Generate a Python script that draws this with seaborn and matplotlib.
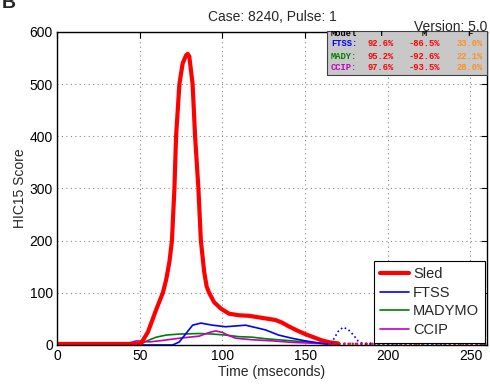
import numpy as np
import matplotlib
matplotlib.use("Agg")
import matplotlib.pyplot as plt
import seaborn as sns
from matplotlib.patches import Rectangle
from matplotlib.lines import Line2D

# =============================================================================
# DATA
# =============================================================================
sled_t = [0, 48, 51, 55, 60, 64, 66, 68, 69.5, 71, 72, 74, 76, 78, 79, 80, 82, 83.5,
          85.5, 87, 89, 90.5, 92, 95, 99, 104, 110, 116, 122, 128, 132, 136, 140,
          145, 150, 155, 160, 165, 170]
sled_v = [2, 2, 4, 25, 68, 100, 125, 160, 200, 300, 400, 500, 540, 555, 558, 553, 500, 400,
          300, 200, 140, 112, 100, 82, 70, 60, 57, 56, 53, 50, 48, 43, 36,
          28, 21, 15, 9, 5, 3]
sled_tail_t = [170, 185, 200, 215, 230, 245, 260]
sled_tail_v = [3, 2, 3, 2, 3, 2, 2]

ftss_t = [0, 70, 74, 78, 82, 87, 94, 102, 110, 114, 118, 126, 134, 142, 150, 158, 163]
ftss_v = [0, 0, 6, 22, 38, 42, 38, 35, 37, 38, 35, 29, 19, 13, 8, 4, 2]
ftss_tail_t = [163, 166, 168, 170, 173, 176, 179, 182, 185, 200, 215, 230, 245, 260]
ftss_tail_v = [2, 4, 15, 26, 34, 30, 20, 8, 2, 2, 3, 2, 3, 2]

mady_t = [0, 48, 52, 56, 60, 66, 74, 86, 94, 102, 110, 118, 126, 134, 142, 150, 158, 165]
mady_v = [1, 1, 4, 10, 15, 19, 21, 22, 21, 19, 16, 15, 12, 10, 8, 6, 4, 2]
mady_tail_t = [165, 180, 200, 220, 240, 260]
mady_tail_v = [2, 2, 2, 2, 2, 2]

ccip_t = [0, 40, 45, 48, 52, 56, 62, 74, 86, 92, 96, 100, 104, 108, 118, 130, 142, 150, 158, 165]
ccip_v = [1, 2, 5, 8, 7, 6, 8, 13, 17, 24, 27, 24, 18, 13, 10, 8, 5, 4, 3, 2]
ccip_tail_t = [165, 180, 195, 205, 215, 225, 235, 245, 260]
ccip_tail_v = [2, 3, 4, 6, 5, 6, 5, 4, 3]

table_models = ["FTSS:", "MADY:", "CCIP:"]
table_colors = ["#0000ff", "#008000", "#c000c0"]
table_T = ["92.6%", "95.2%", "97.6%"]
table_M = ["-86.5%", "-92.6%", "-93.5%"]
table_F = ["33.0%", "22.1%", "28.0%"]

# =============================================================================
# PLOT
# =============================================================================
sns.set_style("white")
plt.rcParams["font.family"] = ["Liberation Sans", "DejaVu Sans"]

W, H = 490, 386
fig = plt.figure(figsize=(W / 100, H / 100), dpi=100)
ax = fig.add_axes([57 / W, 1 - 345 / H, 430 / W, 313 / H])

RED, BLUE, GREEN, MAG = "#ff0000", "#0000ff", "#008000", "#c000c0"

sns.lineplot(x=mady_t, y=mady_v, color=GREEN, lw=1.2, ax=ax, estimator=None, sort=False)
sns.lineplot(x=ccip_t, y=ccip_v, color=MAG, lw=1.2, ax=ax, estimator=None, sort=False)
sns.lineplot(x=ftss_t, y=ftss_v, color=BLUE, lw=1.2, ax=ax, estimator=None, sort=False)
sns.lineplot(x=sled_t, y=sled_v, color=RED, lw=3.0, ax=ax, estimator=None, sort=False)

ax.plot(mady_tail_t, mady_tail_v, color=GREEN, lw=1.2, ls=":")
ax.plot(ccip_tail_t, ccip_tail_v, color=MAG, lw=1.2, ls=":")
ax.plot(ftss_tail_t, ftss_tail_v, color=BLUE, lw=1.2, ls=":")
ax.plot(sled_tail_t, sled_tail_v, color=RED, lw=1.5, ls=":")

ax.set_xlim(0, 260)
ax.set_ylim(0, 600)
ax.set_xticks([0, 50, 100, 150, 200, 250])
ax.set_yticks([0, 100, 200, 300, 400, 500, 600])
ax.grid(True, linestyle=(0, (1, 3)), color="#888888", lw=0.8)
ax.tick_params(direction="in", length=4, top=True, right=True, labelsize=10,
               colors="black", pad=3)
for s in ax.spines.values():
    s.set_color("black")
    s.set_linewidth(1.0)
ax.set_xlabel("Time (mseconds)", fontsize=10, labelpad=1)
ax.set_ylabel("HIC15 Score", fontsize=10, labelpad=2)
ax.set_title("Case: 8240, Pulse: 1", fontsize=10, pad=8)

handles = [Line2D([], [], color=RED, lw=3.0),
           Line2D([], [], color=BLUE, lw=1.2),
           Line2D([], [], color=GREEN, lw=1.2),
           Line2D([], [], color=MAG, lw=1.2)]
leg = ax.legend(handles, ["Sled", "FTSS", "MADYMO", "CCIP"], loc="lower right",
                fontsize=10.5, frameon=True, fancybox=False, framealpha=1,
                edgecolor="black", handlelength=2.0, handletextpad=0.25,
                labelspacing=0.32, borderpad=0.4, borderaxespad=0.15)
leg.get_frame().set_linewidth(0.8)

# version text (partly hidden by the table box)
fig.text(487 / W, 1 - 31 / H, "Version: 5.0", ha="right", va="baseline",
         fontsize=10, zorder=1)
# panel letter cut off at the top edge
fig.text(2 / W, 1 - 8 / H, "B", ha="left", va="baseline", fontsize=14,
         fontweight="bold", zorder=1)

# statistics table box
bx0, by0, bx1, by1 = 327, 31, 487, 75
box = Rectangle((bx0 / W, 1 - by1 / H), (bx1 - bx0) / W, (by1 - by0) / H,
                transform=fig.transFigure, facecolor="#c8c8c8",
                edgecolor="#404040", lw=0.8, zorder=5)
fig.patches.append(box)

mono = dict(family=["Liberation Mono", "DejaVu Sans Mono"], fontweight="bold",
            fontsize=6.3, zorder=6)
col_x = [331, 381, 424, 470]
hdr = ["Model", "T", "M", "F"]
for i, h in enumerate(hdr):
    t = fig.text(col_x[i] / W, 1 - 36 / H, h, color="black", va="baseline",
                 ha="left" if i == 0 else "center", **mono)
    t.set_clip_path(box)
row_y = [46.5, 59, 70]
for r in range(3):
    y = 1 - row_y[r] / H
    fig.text(col_x[0] / W, y, table_models[r], color=table_colors[r], ha="left", va="baseline", **mono)
    fig.text(col_x[1] / W, y, table_T[r], color="#ff0000", ha="center", va="baseline", **mono)
    fig.text(col_x[2] / W, y, table_M[r], color="#ff0000", ha="center", va="baseline", **mono)
    fig.text(col_x[3] / W, y, table_F[r], color="#ff9020", ha="center", va="baseline", **mono)

fig.savefig("out.png", dpi=100)
